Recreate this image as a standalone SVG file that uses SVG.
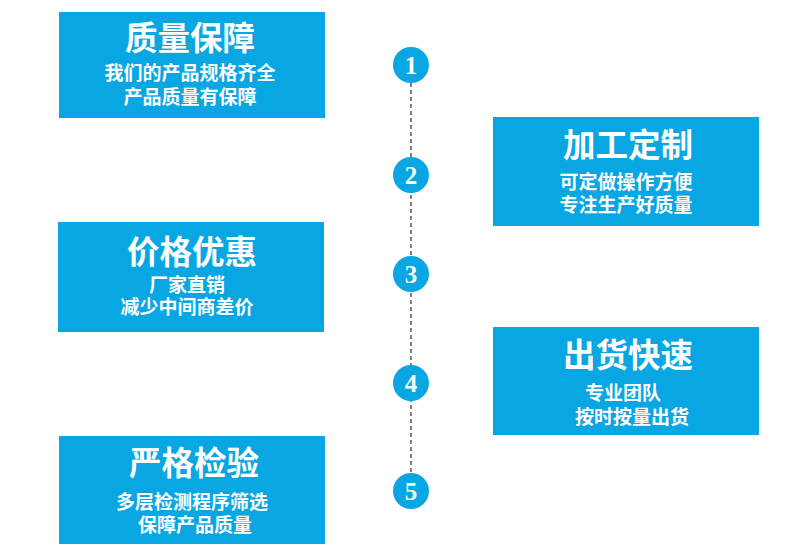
<svg xmlns="http://www.w3.org/2000/svg" width="790" height="553" viewBox="0 0 790 553">
<style>
.box{fill:#09a6e4}
.t{font-family:"Noto Sans CJK SC","Noto Sans",sans-serif;font-weight:bold;fill:#fff;text-anchor:middle}
.h{font-size:32.5px}
.s{font-size:19px}
.c{fill:#09a6e4}
.n{font-family:"Liberation Serif","DejaVu Serif",serif;font-weight:bold;font-size:25px;fill:#fff;text-anchor:middle}
.dash{stroke:#555;stroke-width:1.5;stroke-dasharray:4 3;fill:none}
</style>
<rect width="790" height="553" fill="#fff"/>
<g id="connectors">
<line class="dash" x1="411" y1="83" x2="411" y2="473"/>
</g>
<g id="box1">
<rect class="box" x="59" y="12" width="266" height="106"/>
<text class="t h" x="190" y="50">质量保障</text>
<text class="t s" x="190" y="80">我们的产品规格齐全</text>
<text class="t s" x="190" y="104">产品质量有保障</text>
</g>
<g id="box2">
<rect class="box" x="493" y="117" width="266" height="109"/>
<text class="t h" x="628" y="157">加工定制</text>
<text class="t s" x="626" y="189">可定做操作方便</text>
<text class="t s" x="626" y="212">专注生产好质量</text>
</g>
<g id="box3">
<rect class="box" x="58" y="222" width="266" height="110"/>
<text class="t h" x="192" y="264">价格优惠</text>
<text class="t s" x="187" y="292">厂家直销</text>
<text class="t s" x="187" y="314">减少中间商差价</text>
</g>
<g id="box4">
<rect class="box" x="493" y="327" width="266" height="108"/>
<text class="t h" x="628" y="367">出货快速</text>
<text class="t s" x="623" y="400">专业团队</text>
<text class="t s" x="632" y="424">按时按量出货</text>
</g>
<g id="box5">
<rect class="box" x="59" y="436" width="266" height="108"/>
<text class="t h" x="194" y="475">严格检验</text>
<text class="t s" x="192" y="509">多层检测程序筛选</text>
<text class="t s" x="195" y="532">保障产品质量</text>
</g>
<g id="step1"><circle class="c" cx="411" cy="65" r="18"/><text class="n" x="411" y="74">1</text></g>
<g id="step2"><circle class="c" cx="411" cy="175" r="18"/><text class="n" x="411" y="184">2</text></g>
<g id="step3"><circle class="c" cx="411" cy="274" r="18"/><text class="n" x="411" y="283">3</text></g>
<g id="step4"><circle class="c" cx="411" cy="383" r="18"/><text class="n" x="411" y="392">4</text></g>
<g id="step5"><circle class="c" cx="411" cy="491" r="18"/><text class="n" x="411" y="500">5</text></g>
</svg>
